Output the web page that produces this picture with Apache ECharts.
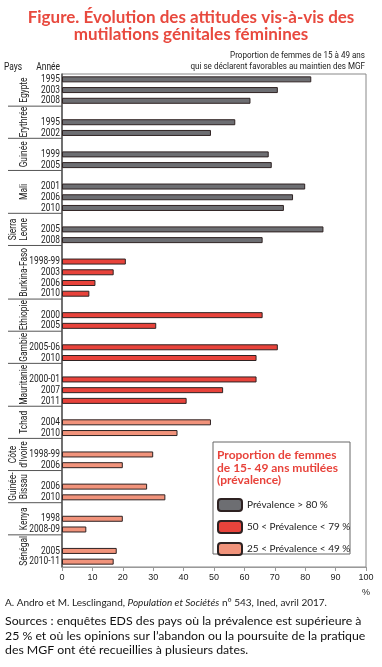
<!DOCTYPE html>
<html>
<head>
<meta charset="utf-8">
<script src="https://cdn.jsdelivr.net/npm/echarts@6/dist/echarts.min.js"></script>
<style>
html,body{margin:0;padding:0;background:#fff;}
#c{width:382px;height:667px;}
</style>
</head>
<body>
<div id="c"></div>
<script>
// ---- Data ----
const countries = ['Egypte','Erythrée','Guinée','Mali','Sierra\nLeone','Burkina-Faso','Ethiopie','Gambie','Mauritanie','Tchad','Côte\nd\'Ivoire','Guinée-\nBissau','Kenya','Sénégal'];
const years = [
  ['1995','2003','2008'],
  ['1995','2002'],
  ['1999','2005'],
  ['2001','2006','2010'],
  ['2005','2008'],
  ['1998-99','2003','2006','2010'],
  ['2000','2005'],
  ['2005-06','2010'],
  ['2000-01','2007','2011'],
  ['2004','2010'],
  ['1998-99','2006'],
  ['2006','2010'],
  ['1998','2008-09'],
  ['2005','2010-11']
];
const values = [
  [82,71,62],
  [57,49],
  [68,69],
  [80,76,73],
  [86,66],
  [21,17,11,9],
  [66,31],
  [71,64],
  [64,53,41],
  [49,38],
  [30,20],
  [28,34],
  [20,8],
  [18,17]
];
const prevalenceClass = [0,0,0,0,0,1,1,1,1,2,2,2,2,2];
const legendNames = ['Prévalence > 80 %','50 < Prévalence < 79 %','25 < Prévalence < 49 %'];
const classColors = ['#6d6e72','#e8433b','#f1937b'];
const xMin = 0, xMax = 100, xStep = 10;

// ---- Build category slots ----
const categories = [];
const slotValue = [];
const slotClass = [];
const groupRanges = [];
countries.forEach((c, i) => {
  const start = categories.length;
  if (i > 0) { categories.push(''); slotValue.push(null); slotClass.push(-1); }
  years[i].forEach((y, j) => {
    categories.push(y); slotValue.push(values[i][j]); slotClass.push(prevalenceClass[i]);
  });
  groupRanges.push([start, categories.length - 1]);
});

const series = legendNames.map((name, k) => ({
  name: name,
  type: 'bar',
  barWidth: 6,
  barGap: '-100%',
  itemStyle: { color: classColors[k], borderColor: '#2e2222', borderWidth: 1 },
  data: slotValue.map((v, s) => (slotClass[s] === k ? v : '-')),
  silent: true
}));

const cond = 'Roboto, sans-serif';
const CS = 0.8; // horizontal condensing of narrow labels
const chart = echarts.init(document.getElementById('c'), null, { renderer: 'canvas' });

chart.setOption({
  animation: false,
  backgroundColor: '#fff',
  grid: { left: 62, right: 16, top: 74, bottom: 100, show: true, borderColor: '#888', borderWidth: 1 },
  xAxis: {
    type: 'value', min: xMin, max: xMax, interval: xStep,
    splitLine: { show: false },
    axisLine: { show: true, lineStyle: { color: '#999', width: 1 } },
    axisTick: { show: true, length: 4, lineStyle: { color: '#999' } },
    axisLabel: { fontSize: 9, color: '#222', margin: 6, fontFamily: '"Liberation Sans",sans-serif' }
  },
  yAxis: {
    type: 'category', inverse: true, data: categories,
    axisLine: { show: true, lineStyle: { color: '#555', width: 1.5 } },
    axisTick: { show: false },
    axisLabel: { show: false }
  },
  legend: {
    orient: 'vertical', left: 217, top: 498, padding: 0,
    itemWidth: 24, itemHeight: 12, itemGap: 8,
    selectedMode: false,
    textStyle: { fontSize: 10, color: '#222', fontFamily: 'Lato' },
    data: legendNames
  },
  series: series
});

// ---- Annotations (titles, labels, separators, legend box) ----
const g = [];
g.push({ type: 'text', style: { text: 'Figure. Évolution des attitudes vis-à-vis des\nmutilations génitales féminines', x: 191, y: 26, textAlign: 'center', textVerticalAlign: 'middle', font: 'bold 17px Lato', fill: '#e8493e', lineHeight: 17.5 } });
g.push({ type: 'text', x: 365, y: 61, scaleX: 0.85, style: { text: 'Proportion de femmes de 15 à 49 ans\nqui se déclarent favorables au maintien des MGF', x: 0, y: 0, textAlign: 'right', textVerticalAlign: 'middle', font: '9.5px ' + cond, fill: '#222', lineHeight: 11 } });
g.push({ type: 'text', x: 4, y: 67, scaleX: CS, style: { text: 'Pays', x: 0, y: 0, textVerticalAlign: 'middle', font: '10.5px ' + cond, fill: '#222' } });
g.push({ type: 'text', x: 60, y: 67, scaleX: CS, style: { text: 'Année', x: 0, y: 0, textAlign: 'right', textVerticalAlign: 'middle', font: '10.5px ' + cond, fill: '#222' } });

// year labels (category labels)
categories.forEach((cat, s) => {
  if (!cat) return;
  const y = chart.convertToPixel({ yAxisIndex: 0 }, s);
  g.push({ type: 'text', x: 60, y: y, scaleX: CS, style: { text: cat, x: 0, y: 0, textAlign: 'right', textVerticalAlign: 'middle', font: '10.5px ' + cond, fill: '#222' } });
});

const step = chart.convertToPixel({ yAxisIndex: 0 }, 1) - chart.convertToPixel({ yAxisIndex: 0 }, 0);
groupRanges.forEach((r, i) => {
  const top = chart.convertToPixel({ yAxisIndex: 0 }, r[0]) - step / 2;
  const bot = chart.convertToPixel({ yAxisIndex: 0 }, r[1]) + step / 2;
  const twoLine = countries[i].indexOf('\n') >= 0;
  g.push({ type: 'text', x: twoLine ? 19 : 24, y: (top + bot) / 2, rotation: Math.PI / 2, scaleX: CS,
    style: { text: countries[i], x: 0, y: 0, textAlign: 'center', textVerticalAlign: 'middle', font: '10.5px ' + cond, fill: '#222', lineHeight: 10.5 } });
  if (i < groupRanges.length - 1) {
    g.push({ type: 'line', shape: { x1: 8, y1: bot, x2: 62, y2: bot }, style: { stroke: '#555', lineWidth: 1 } });
  }
});

g.push({ type: 'rect', shape: { x: 213, y: 442, width: 137, height: 112 }, style: { fill: '#fff', stroke: '#666', lineWidth: 1 }, z: 3 });
g.push({ type: 'text', z: 4, style: { text: 'Proportion de femmes\nde 15- 49 ans mutilées\n(prévalence)', x: 217, y: 449, textVerticalAlign: 'top', font: 'bold 12px Lato', fill: '#e8433b', lineHeight: 12.5 } });
g.push({ type: 'text', style: { text: '%', x: 366, y: 593, textAlign: 'center', textVerticalAlign: 'middle', font: '9px "Liberation Sans",sans-serif', fill: '#222' } });
g.push({ type: 'text', style: {
  text: '{n|A. Andro et M. Lesclingand, }{i|Population et Sociétés}{n| n° 543, Ined, avril 2017.}',
  x: 5, y: 603, textVerticalAlign: 'middle',
  rich: { n: { font: '10px Lato', fill: '#222' }, i: { font: 'italic 10px Lato', fill: '#222' } } } });
g.push({ type: 'text', style: {
  text: 'Sources : enquêtes EDS des pays où la prévalence est supérieure à\n25 % et où les opinions sur l\u2019abandon ou la poursuite de la pratique\ndes MGF ont été recueillies à plusieurs dates.',
  x: 5, y: 614, textVerticalAlign: 'top', font: '12.3px Lato', fill: '#111', lineHeight: 14.5 } });

chart.setOption({ graphic: g });
</script>
</body>
</html>
